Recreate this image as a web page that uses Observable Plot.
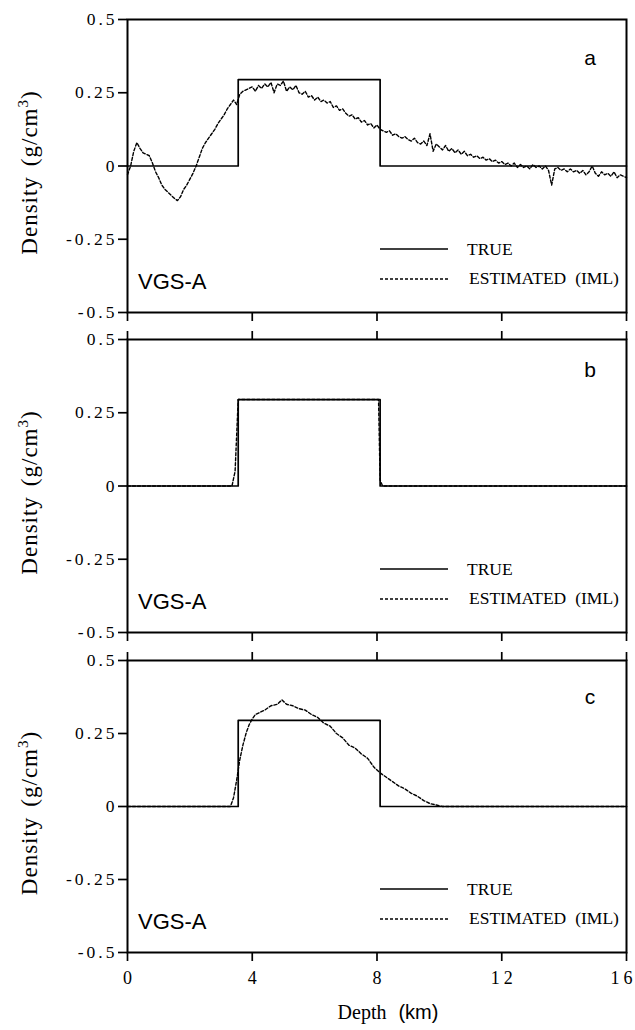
<!DOCTYPE html>
<html><head><meta charset="utf-8">
<script src="https://cdn.jsdelivr.net/npm/d3@7"></script>
<script src="https://cdn.jsdelivr.net/npm/@observablehq/plot@0.6"></script>
<style>
body{margin:0;background:#fff;}
#chart{width:635px;}
#chart svg{display:block;background:#fff;}
</style></head><body><div id="chart"></div>
<script>
// ---- data ----
const yTicks = [-0.5, -0.25, 0, 0.25, 0.5];
const yTickLabels = ["-0.5", "-0.25", "0", "0.25", "0.5"];
const xTicks = [0, 4, 8, 12, 16];
const xTickLabels = ["0", "4", "8", "12", "16"];
const panelLetters = ["a", "b", "c"];
const wellName = "VGS-A";
const legendLabels = ["TRUE", "ESTIMATED (IML)"];
const xAxisTitle = ["Depth", "(km)"];
const yAxisTitle = ["Density", "(g/cm", "3", ")"];

// true density model (step)
const trueDepth = [0, 3.55, 8.1, 16];
const trueDensity = [0, 0.295, 0, 0];

// panel a: estimated (IML), noisy
const estADepth = [0,0.1,0.2,0.3,0.4,0.5,0.6,0.7,0.8,0.9,1,1.1,1.2,1.3,1.4,1.5,1.6,1.7,1.8,1.9,
  2,2.1,2.2,2.3,2.4,2.5,2.6,2.7,2.8,2.9,3,3.1,3.2,3.3,3.4,3.5,3.6,3.7,3.8,3.9,
  4,4.1,4.2,4.3,4.4,4.5,4.6,4.7,4.8,4.9,5,5.1,5.2,5.3,5.4,5.5,5.6,5.7,5.8,5.9,
  6,6.1,6.2,6.3,6.4,6.5,6.6,6.7,6.8,6.9,7,7.1,7.2,7.3,7.4,7.5,7.6,7.7,7.8,7.9,
  8,8.1,8.2,8.3,8.4,8.5,8.6,8.7,8.8,8.9,9,9.1,9.2,9.3,9.4,9.5,9.6,9.7,9.8,9.9,
  10,10.1,10.2,10.3,10.4,10.5,10.6,10.7,10.8,10.9,11,11.1,11.2,11.3,11.4,11.5,11.6,11.7,11.8,11.9,
  12,12.1,12.2,12.3,12.4,12.5,12.6,12.7,12.8,12.9,13,13.1,13.2,13.3,13.4,13.5,13.6,13.7,13.8,13.9,
  14,14.1,14.2,14.3,14.4,14.5,14.6,14.7,14.8,14.9,15,15.1,15.2,15.3,15.4,15.5,15.6,15.7,15.8,15.9,16];
const estADensity = [-0.03,0.0,0.05,0.08,0.06,0.045,0.04,0.035,0.01,-0.02,
  -0.04,-0.065,-0.08,-0.09,-0.1,-0.11,-0.118,-0.105,-0.08,-0.065,
  -0.045,-0.025,0.0,0.03,0.06,0.08,0.095,0.11,0.125,0.145,
  0.16,0.175,0.195,0.21,0.225,0.21,0.245,0.255,0.26,0.265,
  0.27,0.255,0.275,0.265,0.28,0.27,0.285,0.25,0.28,0.275,
  0.29,0.255,0.27,0.26,0.275,0.25,0.245,0.255,0.235,0.24,
  0.225,0.235,0.22,0.225,0.215,0.22,0.2,0.205,0.19,0.195,
  0.18,0.17,0.175,0.16,0.165,0.15,0.155,0.14,0.145,0.13,
  0.14,0.125,0.12,0.115,0.12,0.105,0.11,0.1,0.095,0.1,
  0.09,0.085,0.095,0.08,0.075,0.085,0.07,0.11,0.05,0.075,
  0.065,0.055,0.07,0.05,0.06,0.045,0.055,0.04,0.05,0.035,
  0.04,0.03,0.035,0.025,0.03,0.02,0.025,0.015,0.02,0.01,
  0.015,0.005,0.01,0.0,0.01,-0.005,0.005,-0.005,0.0,-0.01,
  0.005,-0.005,0.0,-0.01,0.0,-0.015,-0.065,-0.01,-0.005,-0.015,
  -0.01,-0.02,-0.01,-0.02,-0.015,-0.025,-0.015,-0.03,-0.02,0.0,
  -0.025,-0.035,-0.02,-0.03,-0.025,-0.035,-0.02,-0.04,-0.03,-0.035,-0.04];

// panel b: estimated almost identical to true
const estBDepth = [0, 3.35, 3.45, 3.55, 8.05, 8.1, 8.18, 16];
const estBDensity = [0, 0, 0.05, 0.295, 0.295, 0.02, 0, 0];

// panel c: estimated smooth bump
const estCDepth = [0,3.3,3.4,3.5,3.6,3.7,3.8,3.9,4.0,4.1,4.2,4.4,4.6,4.8,4.95,5.1,5.3,5.5,5.7,5.9,
  6.1,6.3,6.5,6.7,6.9,7.1,7.3,7.5,7.7,7.9,8.1,8.3,8.5,8.7,8.9,9.1,9.3,9.5,9.7,9.9,10.1,16];
const estCDensity = [0,0,0.03,0.09,0.16,0.21,0.25,0.28,0.3,0.315,0.32,0.33,0.345,0.35,0.365,0.35,0.345,0.335,0.33,0.315,
  0.305,0.285,0.275,0.25,0.235,0.21,0.2,0.18,0.165,0.135,0.115,0.1,0.085,0.07,0.06,0.045,0.035,0.02,0.01,0.005,0,0];

// ---- layout ----
const W = 635;
const panels = [
  {letter: panelLetters[0], depth: estADepth, density: estADensity, height: 325, mt: 19, mb: 13, letterDy: 46, topTicks: false, bottomLabels: false},
  {letter: panelLetters[1], depth: estBDepth, density: estBDensity, height: 320, mt: 14, mb: 13, letterDy: 38, topTicks: true, bottomLabels: false},
  {letter: panelLetters[2], depth: estCDepth, density: estCDensity, height: 385, mt: 15, mb: 78, letterDy: 44, topTicks: true, bottomLabels: true}
];
const serif = "'Liberation Serif', 'Times New Roman', serif";
const sans = "'Liberation Sans', Arial, sans-serif";

function annotations(p) {
  return (index, scales, values, dims) => {
    const L = dims.marginLeft, R = dims.width - dims.marginRight;
    const T = dims.marginTop, B = dims.height - dims.marginBottom;
    const g = d3.create("svg:g").attr("class", "annot").attr("text-anchor", "start").attr("fill", "#000");
    g.append("text").attr("x", R - 36).attr("y", T + p.letterDy)
      .attr("text-anchor", "middle").attr("font-family", sans).attr("font-size", 21).text(p.letter);
    g.append("text").attr("x", L + 11).attr("y", B - 23)
      .attr("font-family", sans).attr("font-size", 22).text(wellName);
    // legend
    g.append("line").attr("x1", R - 246).attr("x2", R - 178).attr("y1", B - 63).attr("y2", B - 63)
      .attr("stroke", "#000").attr("stroke-width", 1.5);
    g.append("text").attr("x", R - 159).attr("y", B - 57)
      .attr("font-family", serif).attr("font-size", 17.5).text(legendLabels[0]);
    g.append("line").attr("x1", R - 246).attr("x2", R - 178).attr("y1", B - 33).attr("y2", B - 33)
      .attr("stroke", "#000").attr("stroke-width", 1.3).attr("stroke-dasharray", "3,2");
    const et = g.append("text").attr("x", R - 157).attr("y", B - 28)
      .attr("font-family", serif).attr("font-size", 17.5);
    const parts = legendLabels[1].split(" ");
    et.append("tspan").text(parts[0]);
    et.append("tspan").attr("dx", 9).text(parts.slice(1).join(" "));
    // y axis title
    const yt = g.append("text").attr("transform", `translate(37,${(T + B) / 2 + 7}) rotate(-90)`)
      .attr("text-anchor", "middle").attr("font-family", serif).attr("font-size", 23)
      .attr("letter-spacing", 1);
    yt.append("tspan").text(yAxisTitle[0]);
    yt.append("tspan").attr("dx", 10).text(yAxisTitle[1]);
    yt.append("tspan").attr("dy", -9).attr("font-size", 15).text(yAxisTitle[2]);
    yt.append("tspan").attr("dy", 9).text(yAxisTitle[3]);
    if (p.bottomLabels) {
      const xt = g.append("text").attr("x", 388).attr("y", B + 67).attr("text-anchor", "middle").attr("font-size", 20);
      xt.append("tspan").attr("font-family", serif).text(xAxisTitle[0]);
      xt.append("tspan").attr("dx", 12).attr("font-family", sans).text(xAxisTitle[1]);
    }
    return g.node();
  };
}

const chart = document.getElementById("chart");
for (const p of panels) {
  const est = p.depth.map((d, i) => ({depth: d, density: p.density[i]}));
  const tru = trueDepth.map((d, i) => ({depth: d, density: trueDensity[i]}));
  const marks = [
    Plot.line(est, {x: "depth", y: "density", stroke: "#000", strokeWidth: 1.4, strokeDasharray: "3,2"}),
    Plot.line(tru, {x: "depth", y: "density", curve: "step-after", stroke: "#000", strokeWidth: 1.7}),
    Plot.axisY({ticks: yTicks, tickSize: 9, tickPadding: 1, stroke: "#000", strokeWidth: 1.7,
      tickFormat: d => yTickLabels[yTicks.indexOf(d)], label: null}),
    Plot.axisX({anchor: "bottom", ticks: xTicks, tickSize: 9, tickPadding: 10, stroke: "#000", strokeWidth: 1.7,
      tickFormat: p.bottomLabels ? (d => xTickLabels[xTicks.indexOf(d)]) : (() => ""), label: null}),
    Plot.frame({stroke: "#000", strokeWidth: 2}),
    annotations(p)
  ];
  if (p.topTicks) marks.push(Plot.axisX({anchor: "top", ticks: xTicks, tickSize: 9, stroke: "#000", strokeWidth: 1.7,
    tickFormat: () => "", label: null}));
  const svg = Plot.plot({
    width: W, height: p.height,
    marginLeft: 127, marginRight: 9, marginTop: p.mt, marginBottom: p.mb,
    x: {domain: [0, 16], label: null},
    y: {domain: [-0.5, 0.5], label: null},
    style: {background: "#fff", color: "#000", overflow: "visible"},
    marks
  });
  d3.select(svg).selectAll("text").each(function() {
    if (this.closest(".annot")) return;
    const holder = this.closest("[aria-label]");
    const lab = holder ? holder.getAttribute("aria-label") : "";
    const t = d3.select(this);
    if (lab.indexOf("y-axis") >= 0) {
      t.style("font-family", serif).style("font-size", "17.5px").style("letter-spacing", "3px").style("fill", "#000");
    } else if (lab.indexOf("x-axis") >= 0) {
      t.style("font-family", serif).style("font-size", "18px").style("letter-spacing", "4px").style("fill", "#000");
      if (this.textContent === xTickLabels[4]) t.attr("dx", -3);
      else t.attr("dx", 2);
    }
  });
  chart.appendChild(svg);
}
</script></body></html>
